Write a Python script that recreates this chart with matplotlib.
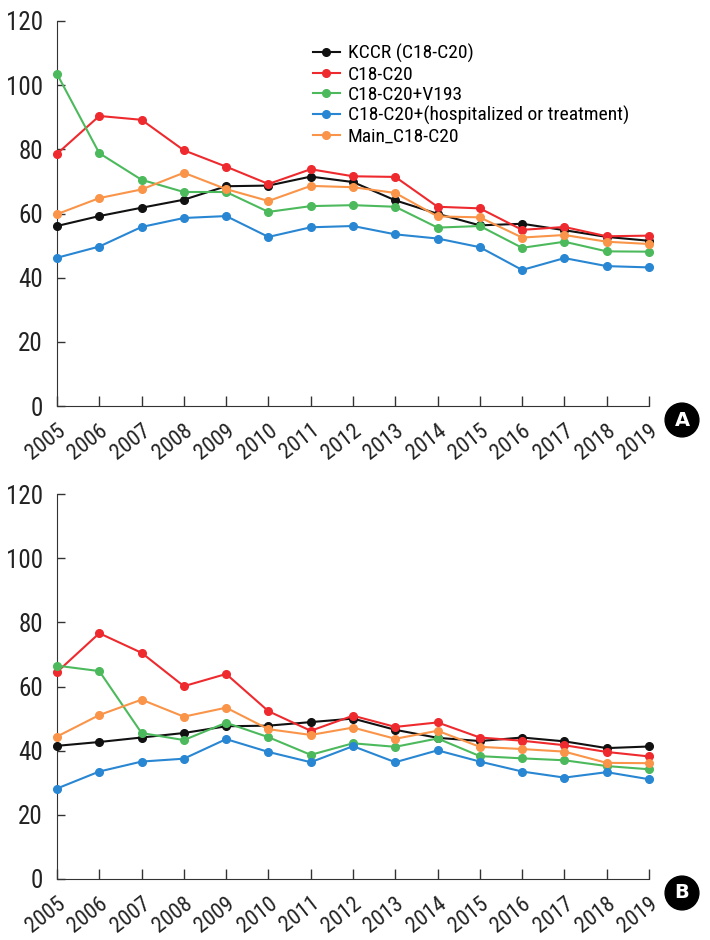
import matplotlib
matplotlib.use('Agg')
import matplotlib.pyplot as plt
from matplotlib import font_manager

#Pick a narrow font if one is installed
installed = set(f.name for f in font_manager.fontManager.ttflist)
main_font = 'DejaVu Sans'
for name in ['Liberation Sans Narrow', 'Roboto Condensed', 'DejaVu Sans Condensed', 'Liberation Sans']:
    if name in installed:
        main_font = name
        break
plt.rcParams['font.family'] = [main_font, 'DejaVu Sans']

years = list(range(2005, 2020))
labels = ['KCCR (C18-C20)', 'C18-C20', 'C18-C20+V193',
          'C18-C20+(hospitalized or treatment)', 'Main_C18-C20']
colors = ['#111111', '#ee2a2e', '#4cba5c', '#2886d2', '#f99449']

#Panel A values
a_kccr = [56.1, 59.2, 61.8, 64.3, 68.5, 68.7, 71.5, 69.8, 64.1, 59.9, 56.3, 56.8, 54.8, 52.7, 51.5]
a_c18 = [78.6, 90.4, 89.2, 79.7, 74.6, 69.2, 73.8, 71.6, 71.4, 62.1, 61.6, 54.9, 55.8, 52.9, 53.1]
a_v193 = [103.5, 78.8, 70.5, 66.7, 66.7, 60.5, 62.3, 62.6, 62.1, 55.6, 56.1, 49.3, 51.2, 48.2, 48.1]
a_hosp = [46.2, 49.7, 55.8, 58.6, 59.2, 52.7, 55.7, 56.1, 53.5, 52.2, 49.5, 42.4, 46.1, 43.6, 43.2]
a_main = [59.8, 64.8, 67.5, 72.7, 67.6, 63.9, 68.6, 68.2, 66.4, 59.1, 58.8, 52.5, 53.3, 51.2, 50.5]

#Panel B values
b_kccr = [41.5, 42.7, 44.1, 45.5, 47.6, 47.8, 48.9, 50.0, 46.5, 44.0, 43.0, 44.1, 42.9, 40.8, 41.3]
b_c18 = [64.5, 76.6, 70.5, 60.1, 63.9, 52.3, 46.2, 50.9, 47.4, 48.8, 44.1, 43.1, 41.7, 39.6, 38.2]
b_v193 = [66.5, 64.8, 45.5, 43.3, 48.7, 44.2, 38.7, 42.3, 41.2, 43.8, 38.3, 37.6, 37.0, 35.2, 34.2]
b_hosp = [28.2, 33.5, 36.6, 37.5, 43.6, 39.6, 36.4, 41.4, 36.4, 40.1, 36.6, 33.5, 31.6, 33.3, 31.1]
b_main = [44.4, 51.1, 55.9, 50.6, 53.4, 46.7, 44.9, 47.2, 43.7, 46.2, 41.2, 40.5, 39.7, 36.2, 36.1]

fig = plt.figure(figsize=(7.1, 9.4), dpi=100)
ax_a = fig.add_axes([57/710, 1 - 406/940, 592/710, 385/940])
ax_b = fig.add_axes([57/710, 1 - 879/940, 592/710, 385/940])

def draw_panel(ax, series, letter, show_legend):
    for values, label, color in zip(series, labels, colors):
        ax.plot(years, values, color=color, linewidth=1.5, marker='o', markersize=5.5,
                label=label, clip_on=False, zorder=3)
    ax.set_xlim(2005, 2019)
    ax.set_ylim(0, 120)
    ax.set_yticks(range(0, 121, 20))
    ax.set_xticks(years)
    ax.set_xticklabels([str(y) for y in years], rotation=38, ha='right', va='top',
                       rotation_mode='anchor')
    ax.spines['top'].set_visible(False)
    ax.spines['right'].set_visible(False)
    ax.spines['left'].set_color('#333333')
    ax.spines['bottom'].set_color('#333333')
    ax.tick_params(axis='y', direction='in', length=6, width=1, color='#333333',
                   labelsize=18, pad=10, labelcolor='#222222')
    ax.tick_params(axis='x', direction='in', length=7, width=1, color='#333333',
                   labelsize=16, pad=10, labelcolor='#222222')
    if show_legend:
        ax.legend(loc='upper left', bbox_to_anchor=(0.432, 0.94), frameon=False,
                  fontsize=14, handlelength=1.4, handletextpad=0.4,
                  labelspacing=0.12, borderaxespad=0, borderpad=0)
    pos = ax.get_position()
    fig.text(pos.x1 + 33/710, pos.y0 - 14/940, letter, ha='center', va='center',
             color='white', fontsize=14, fontweight='bold', family='DejaVu Sans',
             bbox=dict(boxstyle='circle,pad=0.38', facecolor='black', edgecolor='black'))

draw_panel(ax_a, [a_kccr, a_c18, a_v193, a_hosp, a_main], 'A', True)
draw_panel(ax_b, [b_kccr, b_c18, b_v193, b_hosp, b_main], 'B', False)

fig.savefig('out.png', dpi=100)
